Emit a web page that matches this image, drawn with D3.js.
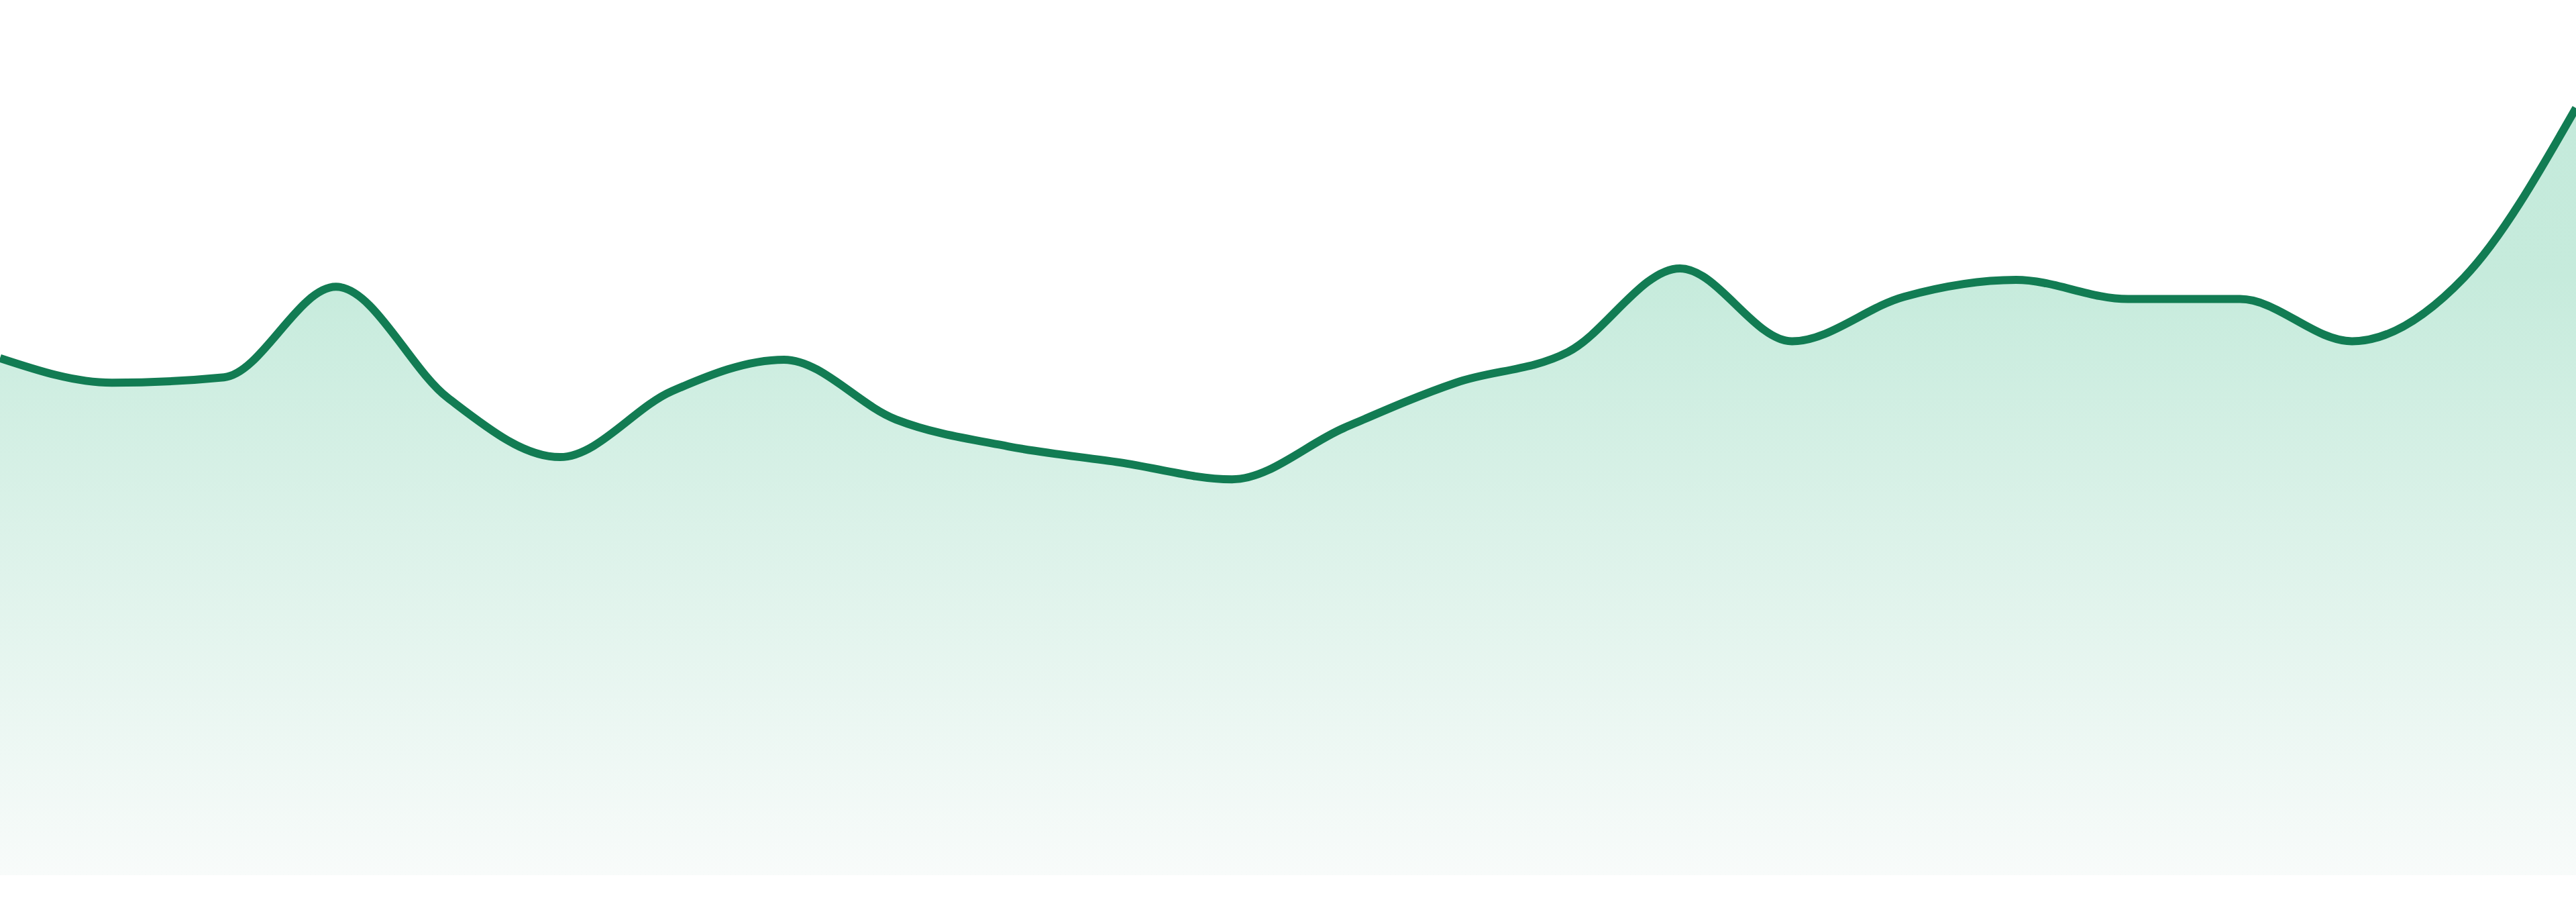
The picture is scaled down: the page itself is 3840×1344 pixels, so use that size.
<!DOCTYPE html>
<html>
<head>
<meta charset="utf-8">
<script src="https://cdn.jsdelivr.net/npm/d3@7"></script>
<style>
  html, body { margin: 0; padding: 0; background: #fff; }
  svg { display: block; }
</style>
</head>
<body>
<div id="chart"></div>
<script>
// one value per step, 24 steps across the full width
const steps = d3.range(24)
const values = [
  67.4, 64.2, 64.9, 76.7, 62.2, 54.5, 63.1, 67.2,
  59.4, 55.9, 53.8, 51.6, 58.3, 64.2, 68.2, 79.1,
  69.6, 75.4, 77.6, 75.1, 75.1, 69.6, 77.9, 100
]
const yDomain = [0, 100]

const width = 3840
const height = 1344
const margin = { top: 161, right: 0, bottom: 40, left: 0 }

const data = steps.map((s, i) => ({ step: s, value: values[i] }))

const svg = d3.select('#chart')
  .append('svg')
  .attr('width', width)
  .attr('height', height)

const x = d3.scaleLinear()
  .domain(d3.extent(steps))
  .range([margin.left, width - margin.right])

const y = d3.scaleLinear()
  .domain(yDomain)
  .range([height - margin.bottom, margin.top])

const grad = svg.append('defs')
  .append('linearGradient')
  .attr('id', 'fade')
  .attr('gradientUnits', 'userSpaceOnUse')
  .attr('x1', 0).attr('x2', 0)
  .attr('y1', y(100)).attr('y2', y(0))
grad.append('stop').attr('offset', 0).attr('stop-color', '#c4eadb')
grad.append('stop').attr('offset', 0.22).attr('stop-color', '#c6ebdc')
grad.append('stop').attr('offset', 1).attr('stop-color', '#f8fbfa')

svg.append('path')
  .datum(data)
  .attr('fill', 'url(#fade)')
  .attr('d', d3.area()
    .curve(d3.curveMonotoneX)
    .x(d => x(d.step))
    .y0(y(0))
    .y1(d => y(d.value))
  )

svg.append('path')
  .datum(data)
  .attr('fill', 'none')
  .attr('stroke', '#127c53')
  .attr('stroke-width', 12)
  .attr('stroke-linejoin', 'round')
  .attr('d', d3.line()
    .curve(d3.curveMonotoneX)
    .x(d => x(d.step))
    .y(d => y(d.value))
  )
</script>
</body>
</html>
